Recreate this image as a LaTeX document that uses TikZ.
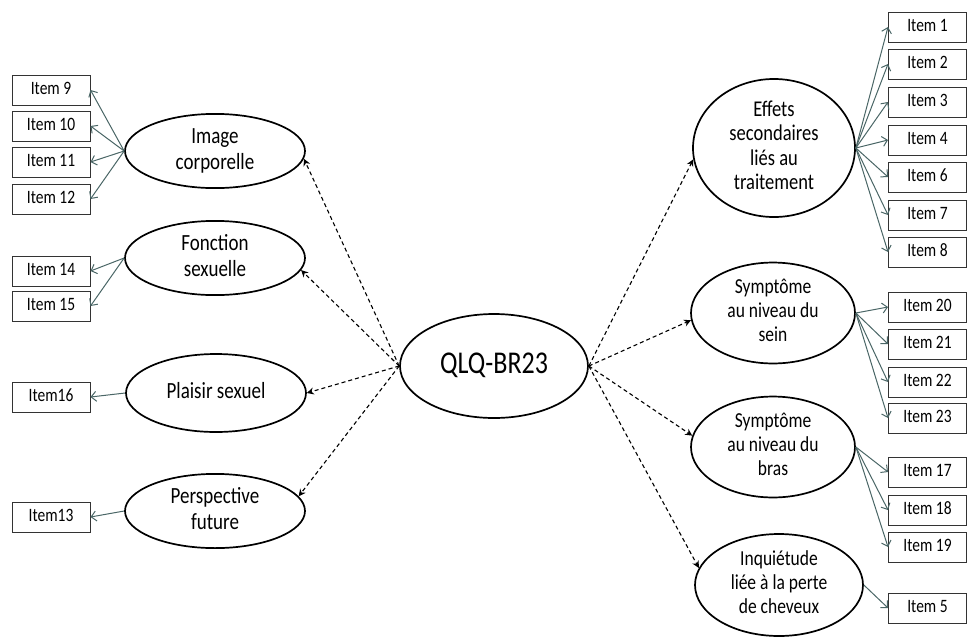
\documentclass[tikz,border=0pt]{standalone}
\usepackage{fontspec}
\setmainfont{Carlito}
\usetikzlibrary{shapes.geometric,arrows.meta}
\definecolor{arrowc}{HTML}{4A6666}
\newcommand{\vt}[1]{\scalebox{1}[1.22]{\begin{tabular}{@{}c@{}}#1\end{tabular}}}
\begin{document}
\begin{tikzpicture}[x=1pt,y=-1pt,
 itembox/.style={draw=black!80,line width=1pt,minimum width=78pt,minimum height=30pt,inner sep=0pt,font=\fontsize{15.5}{18}\selectfont},
 ell/.style={ellipse,draw,line width=1.7pt,inner sep=0pt,align=center},
 lfont/.style={font=\fontsize{19}{21.5}\selectfont},
 rfont/.style={font=\fontsize{17.5}{19.5}\selectfont},
 sarr/.style={draw=arrowc,line width=1pt,-{Straight Barb[length=5pt,width=10pt]}},
 darr/.style={draw=black,line width=1.1pt,dash pattern=on 4pt off 3pt,-{Stealth[length=7pt,width=7pt]}}]
\useasboundingbox (0,0) rectangle (969,638);
% central
\node[ell,minimum width=188pt,minimum height=104pt,font=\fontsize{26}{30}\selectfont] (qlq) at (494,366) {\vt{QLQ-BR23}};
% left ellipses
\node[ell,lfont,minimum width=180pt,minimum height=68pt] (img) at (215,151) {\vt{Image\\corporelle}};
\node[ell,lfont,minimum width=180pt,minimum height=70pt] (fs) at (215,258) {\vt{Fonction\\sexuelle}};
\node[ell,lfont,minimum width=180pt,minimum height=78pt] (ps) at (216,393) {\vt{Plaisir sexuel}};
\node[ell,lfont,minimum width=180pt,minimum height=74pt] (pf) at (215,511) {\vt{Perspective\\future}};
% right ellipses
\node[ell,font=\fontsize{18.5}{20}\selectfont,minimum width=162pt,minimum height=130pt] (eff) at (774,148) {\vt{Effets\\secondaires\\liés au\\traitement}};
\node[ell,rfont,minimum width=164pt,minimum height=80pt] (sein) at (773,313) {\vt{Symptôme\\au niveau du\\sein}};
\node[ell,rfont,minimum width=164pt,minimum height=74pt] (bras) at (773,447) {\vt{Symptôme\\au niveau du\\bras}};
\node[ell,rfont,minimum width=168pt,minimum height=102pt] (inq) at (779,585) {\vt{Inquiétude\\liée à la perte\\de cheveux}};
% left items
\node[itembox] (i9) at (51,90) {\vt{Item 9}};
\node[itembox] (i10) at (51,126) {\vt{Item 10}};
\node[itembox] (i11) at (51,162) {\vt{Item 11}};
\node[itembox] (i12) at (51,199) {\vt{Item 12}};
\node[itembox] (i14) at (51,271) {\vt{Item 14}};
\node[itembox] (i15) at (51,306) {\vt{Item 15}};
\node[itembox] (i16) at (51,397) {\vt{Item16}};
\node[itembox] (i13) at (51,517) {\vt{Item13}};
% right items
\node[itembox] (r1) at (927.5,27) {\vt{Item 1}};
\node[itembox] (r2) at (927.5,64) {\vt{Item 2}};
\node[itembox] (r3) at (927.5,102) {\vt{Item 3}};
\node[itembox] (r4) at (927.5,140) {\vt{Item 4}};
\node[itembox] (r6) at (927.5,177) {\vt{Item 6}};
\node[itembox] (r7) at (927.5,215) {\vt{Item 7}};
\node[itembox] (r8) at (927.5,252) {\vt{Item 8}};
\node[itembox] (r20) at (927.5,307) {\vt{Item 20}};
\node[itembox] (r21) at (927.5,344) {\vt{Item 21}};
\node[itembox] (r22) at (927.5,382) {\vt{Item 22}};
\node[itembox] (r23) at (927.5,418) {\vt{Item 23}};
\node[itembox] (r17) at (927.5,472) {\vt{Item 17}};
\node[itembox] (r18) at (927.5,510) {\vt{Item 18}};
\node[itembox] (r19) at (927.5,547) {\vt{Item 19}};
\node[itembox] (r5) at (927.5,608) {\vt{Item 5}};
% solid arrows
\foreach \t in {i9,i10,i11,i12} \draw[sarr] (img.west) -- (\t.east);
\foreach \t in {i14,i15} \draw[sarr] (fs.west) -- (\t.east);
\draw[sarr] (ps.west) -- (i16.east);
\draw[sarr] (pf.west) -- (i13.east);
\foreach \t in {r1,r2,r3,r4,r6,r7,r8} \draw[sarr] (eff.east) -- (\t.west);
\foreach \t in {r20,r21,r22,r23} \draw[sarr] (sein.east) -- (\t.west);
\foreach \t in {r17,r18,r19} \draw[sarr] (bras.east) -- (\t.west);
\draw[sarr] (inq.east) -- (r5.west);
% dashed arrows
\draw[darr] (qlq.west) -- (img.-5);
\draw[darr] (qlq.west) -- (fs.-8);
\draw[darr] (qlq.west) -- (ps.east);
\draw[darr] (qlq.west) -- (pf.10);
\draw[darr] (qlq.east) -- (eff.188);
\draw[darr] (qlq.east) -- (sein.185);
\draw[darr] (qlq.east) -- (bras.172);
\draw[darr] (qlq.east) -- (inq.168);
\end{tikzpicture}
\end{document}
